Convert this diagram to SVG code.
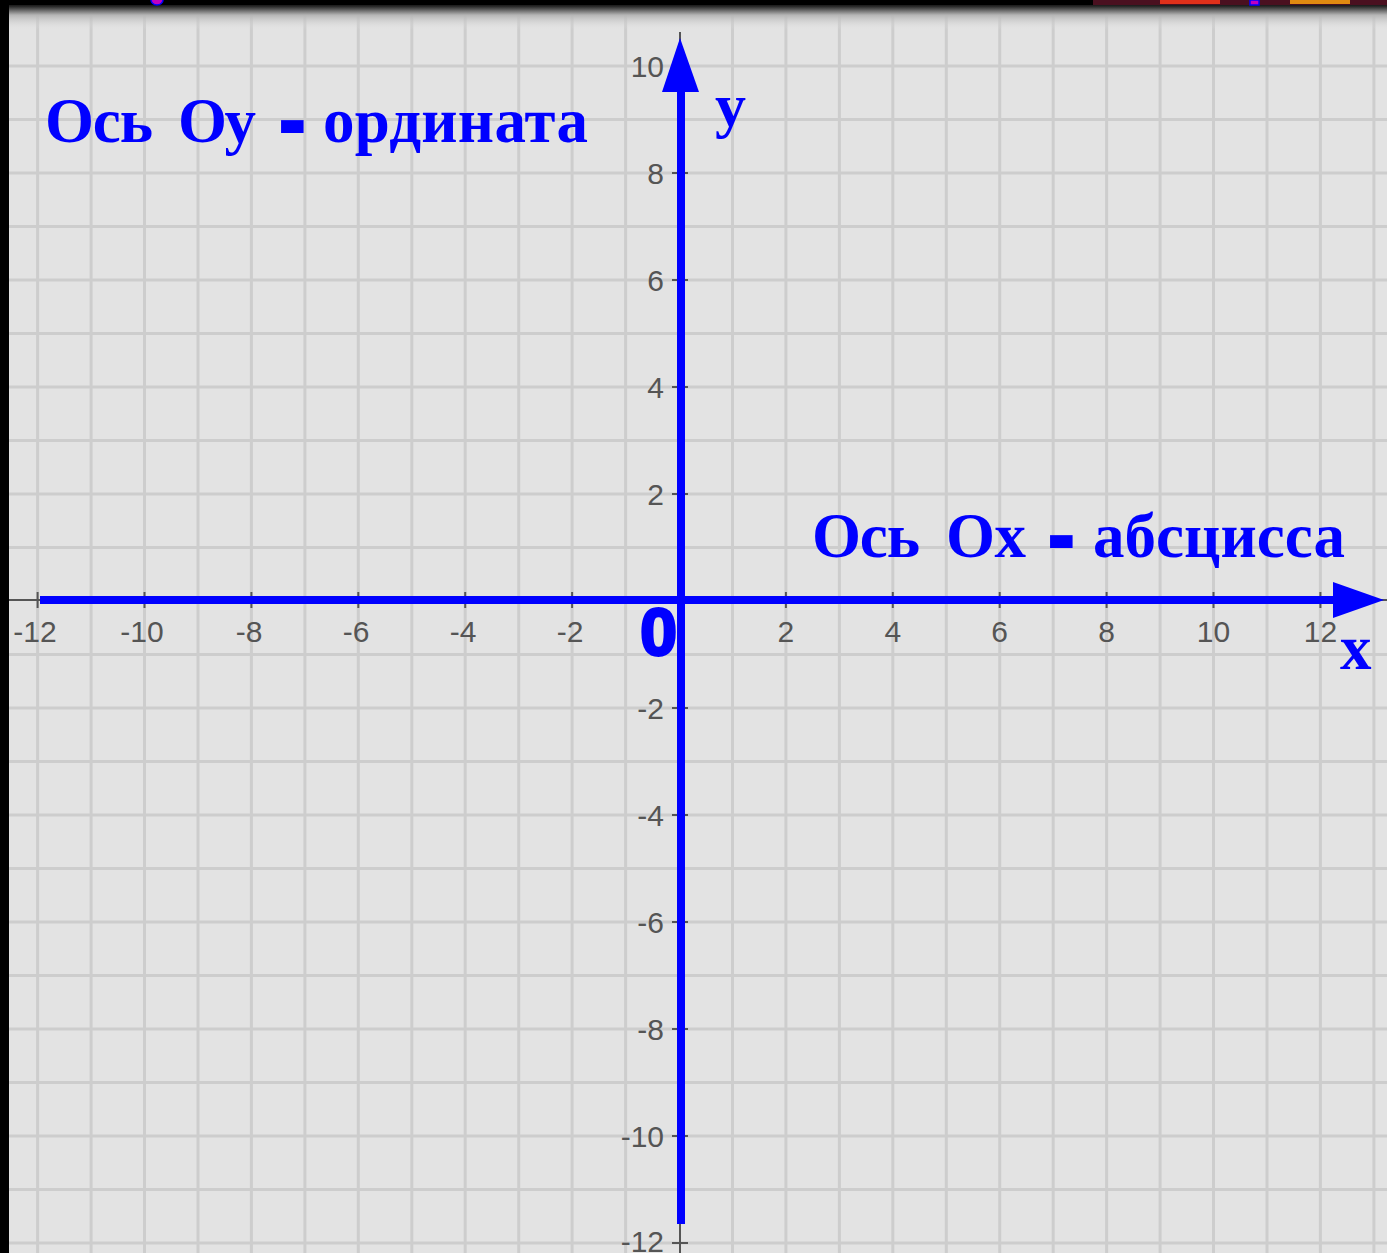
<svg xmlns="http://www.w3.org/2000/svg" width="1387" height="1253" viewBox="0 0 1387 1253">
<defs>
<linearGradient id="topg" x1="0" y1="0" x2="0" y2="1">
<stop offset="0" stop-color="#000"/>
<stop offset="0.2" stop-color="#222"/>
<stop offset="0.5" stop-color="#b5b5b5"/>
<stop offset="1" stop-color="#e3e3e3" stop-opacity="0"/>
</linearGradient>
</defs>
<style>
.bg{fill:#e3e3e3}
.grid line{stroke:#cdcdcd;stroke-width:3}
.gax{stroke:#555;stroke-width:2}
.tick{stroke:#555;stroke-width:2}
.tl{font-family:"Liberation Sans",Arial,sans-serif;font-size:30px;fill:#555}
.tx{text-anchor:middle}
.ty{text-anchor:end}
.axis{stroke:#0000ff;stroke-width:8;fill:none}
.head{fill:#0000ff}
.lbl{font-family:"Liberation Serif","Times New Roman",serif;font-weight:bold;fill:#0000ff}
.dash{font-size:56px;stroke:#0000ff;stroke-width:8}
</style>
<rect class="bg" x="0" y="0" width="1387" height="1253"/>
<g id="grid" class="grid">
<line x1="37.6" y1="0" x2="37.6" y2="1253"/>
<line x1="91.1" y1="0" x2="91.1" y2="1253"/>
<line x1="144.5" y1="0" x2="144.5" y2="1253"/>
<line x1="198" y1="0" x2="198" y2="1253"/>
<line x1="251.4" y1="0" x2="251.4" y2="1253"/>
<line x1="304.9" y1="0" x2="304.9" y2="1253"/>
<line x1="358.3" y1="0" x2="358.3" y2="1253"/>
<line x1="411.8" y1="0" x2="411.8" y2="1253"/>
<line x1="465.2" y1="0" x2="465.2" y2="1253"/>
<line x1="518.7" y1="0" x2="518.7" y2="1253"/>
<line x1="572.1" y1="0" x2="572.1" y2="1253"/>
<line x1="625.6" y1="0" x2="625.6" y2="1253"/>
<line x1="732.5" y1="0" x2="732.5" y2="1253"/>
<line x1="785.9" y1="0" x2="785.9" y2="1253"/>
<line x1="839.4" y1="0" x2="839.4" y2="1253"/>
<line x1="892.8" y1="0" x2="892.8" y2="1253"/>
<line x1="946.3" y1="0" x2="946.3" y2="1253"/>
<line x1="999.7" y1="0" x2="999.7" y2="1253"/>
<line x1="1053.2" y1="0" x2="1053.2" y2="1253"/>
<line x1="1106.6" y1="0" x2="1106.6" y2="1253"/>
<line x1="1160.1" y1="0" x2="1160.1" y2="1253"/>
<line x1="1213.5" y1="0" x2="1213.5" y2="1253"/>
<line x1="1267" y1="0" x2="1267" y2="1253"/>
<line x1="1320.4" y1="0" x2="1320.4" y2="1253"/>
<line x1="1373.9" y1="0" x2="1373.9" y2="1253"/>
<line x1="0" y1="12.5" x2="1387" y2="12.5"/>
<line x1="0" y1="66" x2="1387" y2="66"/>
<line x1="0" y1="119.5" x2="1387" y2="119.5"/>
<line x1="0" y1="173" x2="1387" y2="173"/>
<line x1="0" y1="226.5" x2="1387" y2="226.5"/>
<line x1="0" y1="280" x2="1387" y2="280"/>
<line x1="0" y1="333.5" x2="1387" y2="333.5"/>
<line x1="0" y1="387" x2="1387" y2="387"/>
<line x1="0" y1="440.5" x2="1387" y2="440.5"/>
<line x1="0" y1="494" x2="1387" y2="494"/>
<line x1="0" y1="547.5" x2="1387" y2="547.5"/>
<line x1="0" y1="654.5" x2="1387" y2="654.5"/>
<line x1="0" y1="708" x2="1387" y2="708"/>
<line x1="0" y1="761.5" x2="1387" y2="761.5"/>
<line x1="0" y1="815" x2="1387" y2="815"/>
<line x1="0" y1="868.5" x2="1387" y2="868.5"/>
<line x1="0" y1="922" x2="1387" y2="922"/>
<line x1="0" y1="975.5" x2="1387" y2="975.5"/>
<line x1="0" y1="1029" x2="1387" y2="1029"/>
<line x1="0" y1="1082.5" x2="1387" y2="1082.5"/>
<line x1="0" y1="1136" x2="1387" y2="1136"/>
<line x1="0" y1="1189.5" x2="1387" y2="1189.5"/>
<line x1="0" y1="1243" x2="1387" y2="1243"/>
</g>
<g id="frame">
<rect x="0" y="0" width="1387" height="30" fill="url(#topg)"/>
<rect x="0" y="0" width="1387" height="5" fill="#000"/>
<rect x="1093" y="0" width="294" height="5" fill="#4a1020"/>
<rect x="1160" y="0" width="60" height="4" fill="#e0301a"/>
<rect x="1290" y="0" width="60" height="4" fill="#e08a10"/>
<rect x="1250" y="0" width="9" height="5" fill="#c000c0" stroke="#0000ff" stroke-width="1.5"/>
<ellipse cx="157" cy="0" rx="6" ry="5" fill="#c000c0" stroke="#0000ff" stroke-width="1.5"/>
<rect x="0" y="0" width="9" height="1253" fill="#000"/>
</g>
<g id="plot-axes">
<line class="gax" x1="9" y1="600" x2="1387" y2="600"/>
<line class="gax" x1="680" y1="32" x2="680" y2="1253"/>
<g class="tick">
<line x1="37.6" y1="592" x2="37.6" y2="608"/>
<line x1="144.5" y1="592" x2="144.5" y2="608"/>
<line x1="251.4" y1="592" x2="251.4" y2="608"/>
<line x1="358.3" y1="592" x2="358.3" y2="608"/>
<line x1="465.2" y1="592" x2="465.2" y2="608"/>
<line x1="572.1" y1="592" x2="572.1" y2="608"/>
<line x1="785.9" y1="592" x2="785.9" y2="608"/>
<line x1="892.8" y1="592" x2="892.8" y2="608"/>
<line x1="999.7" y1="592" x2="999.7" y2="608"/>
<line x1="1106.6" y1="592" x2="1106.6" y2="608"/>
<line x1="1213.5" y1="592" x2="1213.5" y2="608"/>
<line x1="1320.4" y1="592" x2="1320.4" y2="608"/>
<line x1="672" y1="66" x2="688" y2="66"/>
<line x1="672" y1="173" x2="688" y2="173"/>
<line x1="672" y1="280" x2="688" y2="280"/>
<line x1="672" y1="387" x2="688" y2="387"/>
<line x1="672" y1="494" x2="688" y2="494"/>
<line x1="672" y1="708" x2="688" y2="708"/>
<line x1="672" y1="815" x2="688" y2="815"/>
<line x1="672" y1="922" x2="688" y2="922"/>
<line x1="672" y1="1029" x2="688" y2="1029"/>
<line x1="672" y1="1136" x2="688" y2="1136"/>
<line x1="672" y1="1243" x2="688" y2="1243"/>
</g>
<g class="tl tx">
<text x="35" y="642">-12</text>
<text x="142" y="642">-10</text>
<text x="249" y="642">-8</text>
<text x="356" y="642">-6</text>
<text x="463" y="642">-4</text>
<text x="570" y="642">-2</text>
<text x="785.9" y="642">2</text>
<text x="892.8" y="642">4</text>
<text x="999.7" y="642">6</text>
<text x="1106.6" y="642">8</text>
<text x="1213.5" y="642">10</text>
<text x="1320.4" y="642">12</text>
</g>
<g class="tl ty">
<text x="664" y="77">10</text>
<text x="664" y="184">8</text>
<text x="664" y="291">6</text>
<text x="664" y="398">4</text>
<text x="664" y="505">2</text>
<text x="664" y="719">-2</text>
<text x="664" y="826">-4</text>
<text x="664" y="933">-6</text>
<text x="664" y="1040">-8</text>
<text x="664" y="1147">-10</text>
<text x="664" y="1252">-12</text>
</g>
</g>
<g id="axes">
<line class="axis" x1="40" y1="600" x2="1336" y2="600"/>
<polygon class="head" points="1333,582 1384,600 1333,618"/>
<line class="axis" x1="681" y1="1224" x2="681" y2="88"/>
<polygon class="head" points="662,92 680,38 699,92"/>
</g>
<g id="labels">
<text class="lbl" y="142" font-size="63"><tspan x="45" textLength="108">Ось</tspan><tspan x="178" textLength="78">Оу</tspan><tspan class="dash" x="283" dy="-2">-</tspan><tspan x="323" dy="2" textLength="265">ордината</tspan></text>
<text class="lbl" y="557" font-size="63"><tspan x="812" textLength="108">Ось</tspan><tspan x="946" textLength="80">Ох</tspan><tspan class="dash" x="1052" dy="-2">-</tspan><tspan x="1093" dy="2" textLength="252">абсцисса</tspan></text>
<text class="lbl" x="715" y="126" font-size="62">у</text>
<text class="lbl" x="1340" y="669" font-size="63">x</text>
<text x="677" y="655" font-family="Liberation Sans,Arial,sans-serif" font-weight="bold" font-size="66" fill="#0000ff" stroke="#0000ff" stroke-width="3" text-anchor="end">0</text>
</g>
</svg>
